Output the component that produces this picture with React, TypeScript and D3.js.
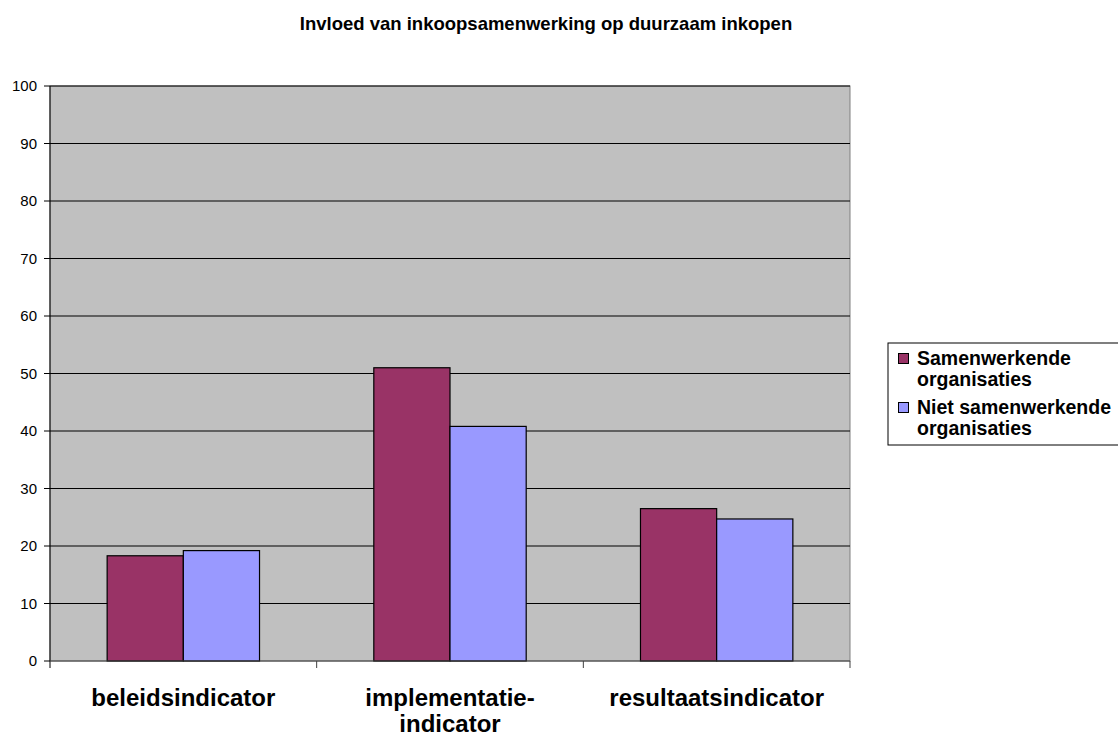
import React from 'react';
import * as d3 from 'd3';

// data
const categories = ['beleidsindicator', 'implementatie-indicator', 'resultaatsindicator'];
const seriesNames = ['Samenwerkende organisaties', 'Niet samenwerkende organisaties'];
const samenwerkend = [18.3, 51.0, 26.5];
const nietSamenwerkend = [19.2, 40.8, 24.7];
const yTicks = [0, 10, 20, 30, 40, 50, 60, 70, 80, 90, 100];
const colors = ['#993366', '#9999FF'];

const W = 1118;
const H = 740;
const plot = { left: 50, right: 850, top: 86, bottom: 661 };
const font = '"Liberation Sans", Arial, sans-serif';

export default function App() {
  const x = d3.scaleBand().domain(categories).range([plot.left, plot.right]).paddingInner(0).paddingOuter(0);
  // Excel gap width 150%
  const inner = d3.scaleBand().domain(seriesNames).range([0, x.bandwidth()]).paddingInner(0).paddingOuter(0.75);
  const y = d3.scaleLinear().domain([0, 100]).range([plot.bottom, plot.top]);
  const series = [samenwerkend, nietSamenwerkend];

  const catLines = (c: string) => (c === 'implementatie-indicator' ? ['implementatie-', 'indicator'] : [c]);

  return (
    <svg width={W} height={H} style={{ position: 'absolute', left: 0, top: 0 }} fontFamily={font}>
      <text x={546} y={30} textAnchor="middle" fontSize={18.5} fontWeight="bold">
        Invloed van inkoopsamenwerking op duurzaam inkopen
      </text>

      {/* plot background */}
      <rect x={plot.left} y={plot.top} width={plot.right - plot.left} height={plot.bottom - plot.top}
        fill="#C0C0C0" stroke="#808080" strokeWidth={1} />

      {/* gridlines */}
      {yTicks.filter(t => t > 0).map(t => (
        <line key={t} x1={plot.left} x2={plot.right} y1={y(t)} y2={y(t)} stroke="#000" strokeWidth={1} />
      ))}

      {/* bars */}
      {categories.map((c, i) =>
        series.map((s, j) => (
          <rect key={c + j}
            x={(x(c) as number) + (inner(seriesNames[j]) as number)}
            y={y(s[i])}
            width={inner.bandwidth()}
            height={y(0) - y(s[i])}
            fill={colors[j]} stroke="#000" strokeWidth={1.2} />
        ))
      )}

      {/* y axis */}
      <line x1={plot.left} x2={plot.left} y1={plot.top} y2={plot.bottom + 7} stroke="#000" />
      {yTicks.map(t => (
        <g key={t}>
          <line x1={plot.left - 6} x2={plot.left} y1={y(t)} y2={y(t)} stroke="#000" />
          <text x={plot.left - 13} y={y(t) + 5} textAnchor="end" fontSize={15}>{t}</text>
        </g>
      ))}

      {/* x axis */}
      <line x1={plot.left} x2={plot.right} y1={plot.bottom} y2={plot.bottom} stroke="#404040" />
      {categories.map(c => (
        <line key={c} x1={(x(c) as number) + x.bandwidth()} x2={(x(c) as number) + x.bandwidth()}
          y1={plot.bottom} y2={plot.bottom + 7} stroke="#404040" />
      ))}
      {categories.map(c => (
        <text key={c} x={(x(c) as number) + x.bandwidth() / 2} y={706} textAnchor="middle"
          fontSize={24} fontWeight="bold">
          {catLines(c).map((l, k) => (
            <tspan key={k} x={(x(c) as number) + x.bandwidth() / 2} dy={k === 0 ? 0 : 26}>{l}</tspan>
          ))}
        </text>
      ))}

      {/* legend */}
      <rect x={888} y={343} width={240} height={102} fill="#fff" stroke="#000" />
      {seriesNames.map((n, j) => {
        const words = j === 0 ? ['Samenwerkende', 'organisaties'] : ['Niet samenwerkende', 'organisaties'];
        const base = 365 + j * 49;
        return (
          <g key={n}>
            <rect x={898.5} y={base - 11.5} width={10} height={10} fill={colors[j]} stroke="#000" />
            {words.map((w, k) => (
              <text key={k} x={917} y={base + k * 20.5} fontSize={19.5} fontWeight="bold">{w}</text>
            ))}
          </g>
        );
      })}
    </svg>
  );
}
